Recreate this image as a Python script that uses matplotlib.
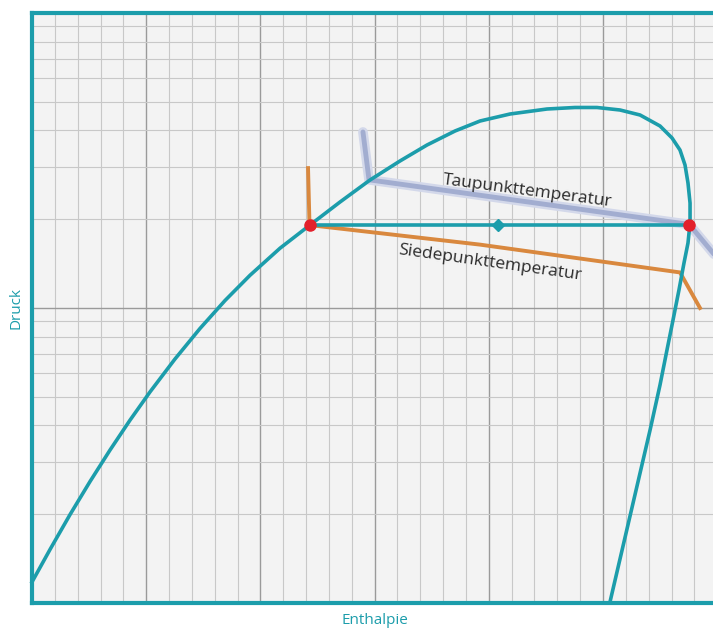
import numpy as np
import matplotlib
matplotlib.use('Agg')
from matplotlib import pyplot as plt
from matplotlib.ticker import MultipleLocator, LogLocator, NullFormatter

plt.rcParams['font.family'] = ['Open Sans', 'DejaVu Sans']

# Nassdampfgebiet (Siede- und Taulinie), Enthalpie h / Druck p
dome_h = [0.0, 0.158, 0.333, 0.508, 0.683, 0.858, 1.033, 1.252, 1.471, 1.690,
          1.909, 2.172, 2.434, 2.697, 2.960, 3.222, 3.459, 3.704, 3.923, 4.186,
          4.510, 4.755, 4.947, 5.149, 5.324, 5.499, 5.604, 5.674, 5.718, 5.744,
          5.762, 5.762, 5.744, 5.709, 5.665, 5.613, 5.560, 5.499, 5.412, 5.061]
dome_p = [1.178, 1.519, 1.994, 2.581, 3.299, 4.166, 5.192, 6.716, 8.522, 10.60,
          12.91, 15.95, 19.11, 22.87, 27.16, 31.50, 35.69, 39.81, 43.04, 45.46,
          47.27, 47.83, 47.83, 46.90, 45.11, 41.40, 37.71, 34.32, 30.53, 26.53,
          22.69, 19.42, 16.61, 14.21, 11.51, 9.107, 7.205, 5.483, 3.858, 1.008]

# Isobare im Zweiphasengebiet
p_iso = 19.11
h_siede = 2.434
h_tau = 5.755
h_mitte = 4.08

# Siedepunkttemperatur (Isotherme)
siede_h = [2.417, 2.430, 3.923, 5.674, 5.849]
siede_p = [29.8, 19.1, 16.4, 13.2, 10.0]

# Taupunkttemperatur (Isotherme)
tau_h = [2.898, 2.951, 5.755, 6.05]
tau_p = [39.5, 27.2, 19.2, 14.0]

teal = '#1c9dab'

fig = plt.figure(figsize=(7.13, 6.30), dpi=100)
ax = fig.add_axes([32 / 713, 27 / 630, 1 - 32 / 713, 590 / 630])
ax.set_facecolor('#f3f3f3')
ax.set_yscale('log')
ax.set_xlim(0, 5.963)
ax.set_ylim(1, 100)

# Raster: Haupt- und Nebenlinien
ax.xaxis.set_major_locator(MultipleLocator(1))
ax.xaxis.set_minor_locator(MultipleLocator(0.2))
ax.yaxis.set_major_locator(LogLocator(base=10))
ax.yaxis.set_minor_locator(LogLocator(base=10, subs=np.arange(2, 10)))
ax.yaxis.set_minor_formatter(NullFormatter())
ax.grid(which='major', color='#9a9a9a', linewidth=1.0)
ax.grid(which='minor', color='#c8c8c8', linewidth=0.8)
ax.set_axisbelow(True)
ax.tick_params(which='both', length=0, labelbottom=False, labelleft=False)

for side in ['left', 'bottom', 'top']:
    ax.spines[side].set_color(teal)
    ax.spines[side].set_linewidth(3)
ax.spines['right'].set_visible(False)

# Taupunkt-Isotherme (breit, blaugrau)
ax.plot(tau_h, tau_p, color='#d3d8ea', linewidth=7, solid_capstyle='round', zorder=3)
ax.plot(tau_h, tau_p, color='#a2add0', linewidth=3.5, solid_capstyle='round', zorder=3)

# Siedepunkt-Isotherme
ax.plot(siede_h, siede_p, color='#d9883e', linewidth=2.8, zorder=4)

# Nassdampfgebiet
ax.plot(dome_h, dome_p, color=teal, linewidth=2.6, zorder=5, clip_on=False)

# Isobare mit Zustandspunkten
ax.plot([h_siede, h_tau], [p_iso, p_iso], color=teal, linewidth=2.6, zorder=5)
ax.plot([h_mitte], [p_iso], marker='D', color=teal, markersize=6, zorder=6)
ax.plot([h_siede, h_tau], [p_iso, p_iso], 'o', color='#e3202b', markersize=8, zorder=7)

ax.text(4.34, 24.8, 'Taupunkttemperatur', rotation=-7.5, ha='center', va='center',
        fontsize=12.5, color='#2b2b2b', zorder=8)
ax.text(4.01, 14.2, 'Siedepunkttemperatur', rotation=-8, ha='center', va='center',
        fontsize=12.5, color='#2b2b2b', zorder=8)

ax.set_xlabel('Enthalpie', color=teal, fontsize=11, va='center')
ax.xaxis.set_label_coords((375 - 32) / (713 - 32), -17 / 590)
ax.set_ylabel('Druck', color=teal, fontsize=11, va='center')
ax.yaxis.set_label_coords(-16 / (713 - 32), (603 - 308) / 590)

fig.savefig('out.png', dpi=100, facecolor='white')
